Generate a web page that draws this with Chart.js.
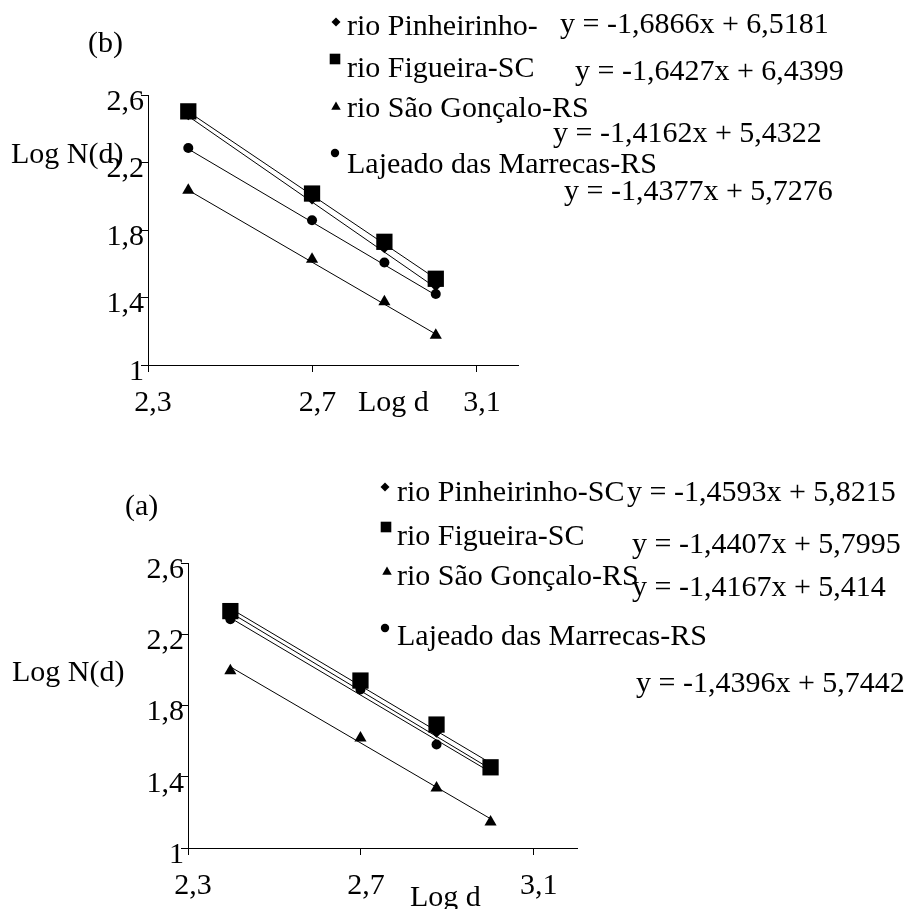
<!DOCTYPE html>
<html>
<head>
<meta charset="utf-8">
<script src="https://cdn.jsdelivr.net/npm/chart.js@4.4.1/dist/chart.umd.min.js"></script>
<style>
  html, body { margin: 0; padding: 0; background: #fff; }
  #wrap { position: relative; width: 908px; height: 909px; overflow: hidden; }
  canvas { position: absolute; left: 0; }
  #chartB { top: 0; }
  #chartA { top: 450px; }
</style>
</head>
<body>
<div id="wrap">
  <canvas id="chartB" width="908" height="450"></canvas>
  <canvas id="chartA" width="908" height="459"></canvas>
</div>
<script>
// DATA
const logD = [2.398, 2.699, 2.875, 3.0];
const xTicks = [2.3, 2.7, 3.1];
const yTicks = [1, 1.4, 1.8, 2.2, 2.6];

// panel (b)
const bPinheirinho = [2.483, 1.984, 1.695, 1.469];
const bFigueira = [2.503, 2.016, 1.730, 1.511];
const bSaoGoncalo = [2.036, 1.626, 1.375, 1.177];
const bLajeado = [2.286, 1.858, 1.607, 1.421];
// trend lines: value at first and last Log d
const bTrendPinheirinho = [2.474, 1.458];
const bTrendFigueira = [2.501, 1.512];
const bTrendSaoGoncalo = [2.036, 1.183];
const bTrendLajeado = [2.280, 1.414];
const bLabels = ["rio Pinheirinho-", "rio Figueira-SC", "rio São Gonçalo-RS", "Lajeado das Marrecas-RS"];
const bEquations = ["y = -1,6866x + 6,5181", "y = -1,6427x + 6,4399", "y = -1,4162x + 5,4322", "y = -1,4377x + 5,7276"];

// panel (a)
const aPinheirinho = [2.320, 1.910, 1.650, 1.450];
const aFigueira = [2.330, 1.940, 1.693, 1.453];
const aSaoGoncalo = [1.995, 1.618, 1.337, 1.146];
const aLajeado = [2.284, 1.890, 1.581, 1.440];
const aTrendPinheirinho = [2.322, 1.444];
const aTrendFigueira = [2.345, 1.477];
const aTrendSaoGoncalo = [2.017, 1.164];
const aTrendLajeado = [2.292, 1.426];
const aLabels = ["rio Pinheirinho-SC", "rio Figueira-SC", "rio São Gonçalo-RS", "Lajeado das Marrecas-RS"];
const aEquations = ["y = -1,4593x + 5,8215", "y = -1,4407x + 5,7995", "y = -1,4167x + 5,414", "y = -1,4396x + 5,7442"];

// STYLE
const FONT = '"Liberation Serif", "Times New Roman", serif';
const FS = 30;
const markers = [
  { style: "rectRot", r: 5.5, lr: 4.5 },
  { style: "rect", r: 11.5, lr: 7.5 },
  { style: "triangle", r: 7, lr: 5.5 },
  { style: "circle", r: 5, lr: 4.2 },
];

const fmt = (v) => String(v).replace(".", ",");

function drawMarker(ctx, style, x, y, r) {
  ctx.beginPath();
  if (style === "rect") {
    const s = Math.SQRT1_2 * r;
    ctx.rect(x - s, y - s, 2 * s, 2 * s);
  } else if (style === "rectRot") {
    ctx.moveTo(x - r, y);
    ctx.lineTo(x, y - r);
    ctx.lineTo(x + r, y);
    ctx.lineTo(x, y + r);
    ctx.closePath();
  } else if (style === "triangle") {
    ctx.moveTo(x, y - r);
    ctx.lineTo(x + r * 0.866, y + r * 0.5);
    ctx.lineTo(x - r * 0.866, y + r * 0.5);
    ctx.closePath();
  } else {
    ctx.arc(x, y, r, 0, Math.PI * 2);
  }
  ctx.fill();
}

// titles, legend and trend equations, drawn after the chart
const textPlugin = {
  id: "panelText",
  afterDraw(chart) {
    const t = chart.options.plugins.panelText;
    const ctx = chart.ctx;
    ctx.save();
    ctx.fillStyle = "#000";
    ctx.font = `${FS}px ${FONT}`;
    ctx.textBaseline = "middle";
    ctx.textAlign = "left";
    ctx.fillText(t.title.text, t.title.x, t.title.y);
    ctx.fillText("Log N(d)", t.yTitle.x, t.yTitle.y);
    ctx.fillText("Log d", t.xTitle.x, t.xTitle.y);
    t.legend.forEach((it, i) => {
      drawMarker(ctx, markers[i].style, it.mx, it.my, markers[i].lr);
      ctx.fillText(t.labels[i], it.tx, it.ty);
    });
    t.eqs.forEach((it, i) => {
      ctx.fillText(t.equations[i], it.x, it.y);
    });
    ctx.restore();
  },
};

function buildChart(id, series, trends, area, text) {
  const datasets = [];
  series.forEach((vals, i) => {
    datasets.push({
      data: logD.map((x, j) => ({ x, y: vals[j] })),
      pointStyle: markers[i].style,
      pointRadius: markers[i].r,
      pointBackgroundColor: "#000",
      pointBorderColor: "#000",
      pointBorderWidth: 0,
      showLine: false,
      order: 0,
    });
    datasets.push({
      data: [{ x: logD[0], y: trends[i][0] }, { x: logD[logD.length - 1], y: trends[i][1] }],
      showLine: true,
      borderColor: "#000",
      borderWidth: 1,
      pointRadius: 0,
      order: 1,
    });
  });

  const canvas = document.getElementById(id);
  return new Chart(canvas.getContext("2d"), {
    type: "scatter",
    data: { datasets },
    plugins: [textPlugin],
    options: {
      responsive: false,
      animation: false,
      devicePixelRatio: 1,
      layout: {
        padding: { left: 0, top: area.top, right: canvas.width - area.right, bottom: area.padBottom },
      },
      plugins: {
        legend: { display: false },
        tooltip: { enabled: false },
        panelText: text,
      },
      scales: {
        x: {
          type: "linear",
          min: 2.3,
          max: 3.2,
          afterBuildTicks: (s) => { s.ticks = xTicks.map((v) => ({ value: v })); },
          afterFit: (s) => { s.height = 60; },
          grid: { display: true, drawOnChartArea: false, drawTicks: true, tickLength: 7, color: "#000", lineWidth: 1 },
          border: { display: true, color: "#000", width: 1 },
          ticks: {
            color: "#000",
            font: { family: FONT, size: FS },
            padding: 13,
            labelOffset: 5,
            maxRotation: 0,
            autoSkip: false,
            callback: (v) => fmt(v),
          },
        },
        y: {
          type: "linear",
          min: 1,
          max: 2.6,
          afterBuildTicks: (s) => { s.ticks = yTicks.map((v) => ({ value: v })); },
          afterFit: (s) => { s.width = area.left; },
          grid: { display: true, drawOnChartArea: false, drawTicks: true, tickLength: 7, color: "#000", lineWidth: 1 },
          border: { display: true, color: "#000", width: 1 },
          ticks: {
            color: "#000",
            font: { family: FONT, size: FS },
            padding: -3,
            labelOffset: 7,
            autoSkip: false,
            callback: (v) => fmt(v),
          },
        },
      },
    },
  });
}

// (b) top panel
buildChart(
  "chartB",
  [bPinheirinho, bFigueira, bSaoGoncalo, bLajeado],
  [bTrendPinheirinho, bTrendFigueira, bTrendSaoGoncalo, bTrendLajeado],
  { left: 148, top: 95, right: 518, padBottom: 25 },
  {
    title: { text: "(b)", x: 88, y: 44 },
    yTitle: { x: 11, y: 155 },
    xTitle: { x: 358, y: 403 },
    labels: bLabels,
    equations: bEquations,
    legend: [
      { mx: 336, my: 22, tx: 347, ty: 27 },
      { mx: 335, my: 59, tx: 347, ty: 69 },
      { mx: 336, my: 107, tx: 347, ty: 109 },
      { mx: 335, my: 153, tx: 347, ty: 165 },
    ],
    eqs: [
      { x: 560, y: 25 },
      { x: 575, y: 72 },
      { x: 553, y: 134 },
      { x: 564, y: 192 },
    ],
  }
);

// (a) bottom panel
buildChart(
  "chartA",
  [aPinheirinho, aFigueira, aSaoGoncalo, aLajeado],
  [aTrendPinheirinho, aTrendFigueira, aTrendSaoGoncalo, aTrendLajeado],
  { left: 188, top: 113, right: 577, padBottom: 1 },
  {
    title: { text: "(a)", x: 125, y: 57 },
    yTitle: { x: 12, y: 223 },
    xTitle: { x: 410, y: 448 },
    labels: aLabels,
    equations: aEquations,
    legend: [
      { mx: 385, my: 37, tx: 397, ty: 43 },
      { mx: 386, my: 77, tx: 397, ty: 87 },
      { mx: 387, my: 122, tx: 397, ty: 127 },
      { mx: 385, my: 178, tx: 397, ty: 187 },
    ],
    eqs: [
      { x: 627, y: 43 },
      { x: 632, y: 95 },
      { x: 632, y: 138 },
      { x: 636, y: 234 },
    ],
  }
);
</script>
</body>
</html>
